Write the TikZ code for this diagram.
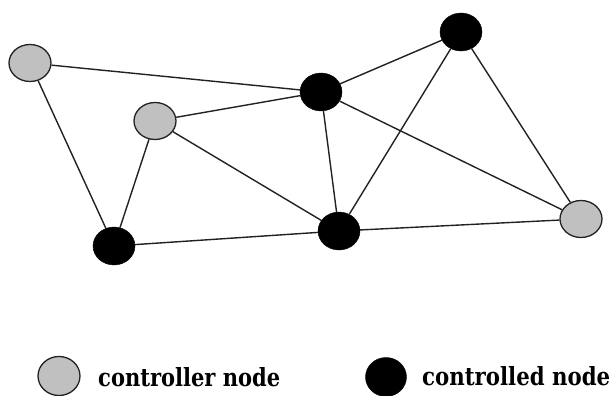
\documentclass[tikz,border=0pt]{standalone}
\usepackage{fontspec}
\setmainfont{DejaVu Serif}
\usetikzlibrary{shapes.geometric}
\definecolor{nodegray}{HTML}{C0C0C0}
\definecolor{edgecol}{HTML}{222222}
\tikzset{
  ctrlr/.style={ellipse, draw=edgecol, line width=1.3pt, fill=nodegray, minimum width=42pt, minimum height=37pt, inner sep=0pt},
  ctrld/.style={ellipse, draw=black, fill=black, minimum width=42pt, minimum height=38pt, inner sep=0pt},
  edge/.style={draw=edgecol, line width=1.4pt},
  legtext/.style={anchor=base west, inner sep=0pt}
}
\begin{document}
\begin{tikzpicture}[x=1pt,y=-1pt]
\useasboundingbox (0,0) rectangle (614,396);
\node[ctrlr] (A) at (30,63) {};
\node[ctrlr] (B) at (155,121) {};
\node[ctrld] (C) at (321,92) {};
\node[ctrld] (D) at (461,32) {};
\node[ctrld] (E) at (114,246) {};
\node[ctrld] (F) at (339,231) {};
\node[ctrlr] (G) at (581,219) {};
\draw[edge] (A) -- (C);
\draw[edge] (A) -- (E);
\draw[edge] (B) -- (C);
\draw[edge] (B) -- (E);
\draw[edge] (B) -- (F);
\draw[edge] (C) -- (D);
\draw[edge] (C) -- (F);
\draw[edge] (C) -- (G);
\draw[edge] (D) -- (F);
\draw[edge] (D) -- (G);
\draw[edge] (E) -- (F);
\draw[edge] (F) -- (G);
\node[ctrlr, minimum width=42pt, minimum height=39pt] (L1) at (59,376) {};
\node[legtext] (T1) at (98,386) {\resizebox{182pt}{19pt}{\bfseries controller node}};
\node[ctrld, minimum width=41pt, minimum height=39pt] (L2) at (386,377) {};
\node[legtext] (T2) at (422,385) {\resizebox{188pt}{19pt}{\bfseries controlled node}};
\end{tikzpicture}
\end{document}
